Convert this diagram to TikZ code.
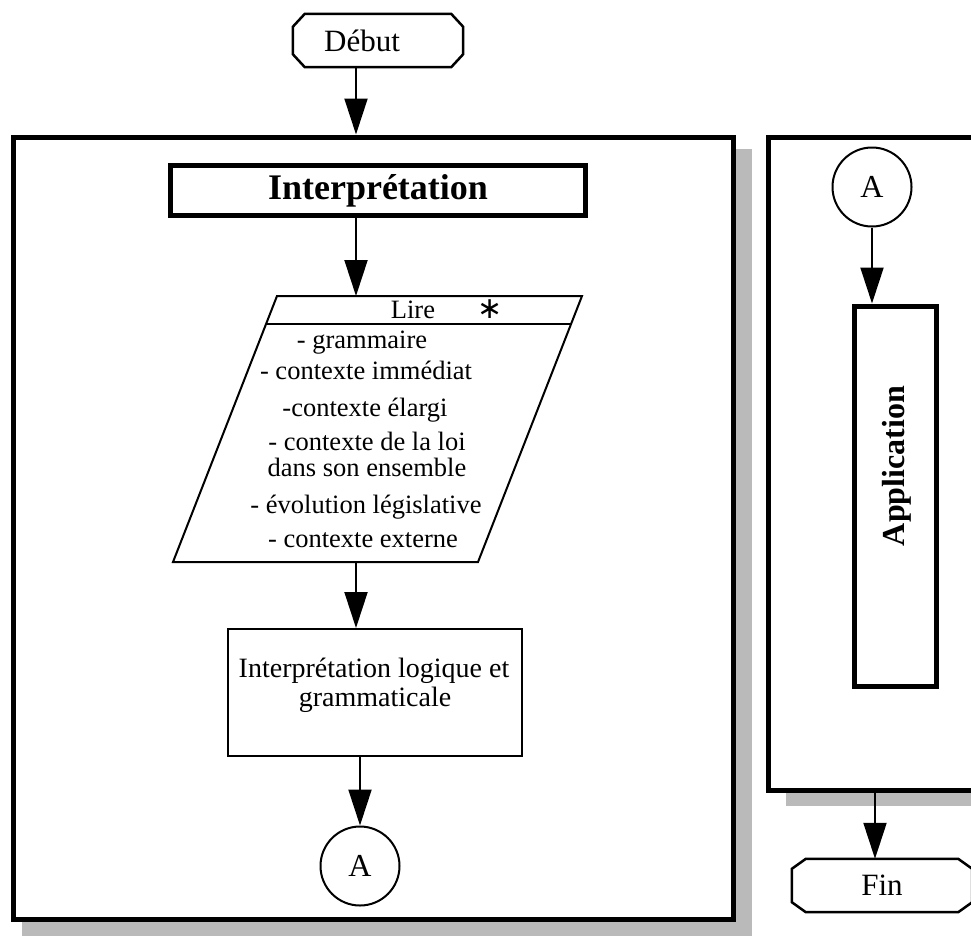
\documentclass[tikz,border=0pt]{standalone}
\usepackage{fontspec}
\setmainfont{Liberation Serif}
\newfontfamily\symfnt{DejaVu Sans}
\usetikzlibrary{arrows.meta,calc}
\tikzset{
  thickbox/.style={draw, line width=5pt, rectangle, inner sep=0pt},
  thinbox/.style={draw, line width=2pt, rectangle, inner sep=0pt},
  conn/.style={draw, circle, line width=2pt, minimum size=79pt, inner sep=0pt, font=\fontsize{32}{34}\selectfont},
  arr/.style={line width=2pt, -{Triangle[length=36pt,width=23pt]}},
  txt/.style={font=\fontsize{26.5}{28}\selectfont, inner sep=0pt, anchor=base},
  term/.style={rectangle, inner sep=0pt, font=\fontsize{31}{33}\selectfont},
  termline/.style={line width=2.5pt, line join=miter},
  shadowfill/.style={fill=black!27},
}
\begin{document}
\begin{tikzpicture}[x=1pt,y=-1pt]
\useasboundingbox (0,0) rectangle (971,935);
\clip (0,0) rectangle (971,935);
% shadows
\fill[shadowfill] (22,149) rectangle (752,945);
\fill[shadowfill] (786,150) rectangle (1010,806);
% frames
\node[thickbox, fill=white, minimum width=720pt, minimum height=782pt] (frameL) at (373,528) {};
\node[thickbox, fill=white, minimum width=240pt, minimum height=653pt] (frameR) at (888,463.5) {};
% helper x positions
\coordinate (ax) at (356,0);
\coordinate (fx) at (875,0);
% Debut
\node[term, minimum width=170pt, minimum height=53pt] (deb) at (378,40.5) {};
\node[term] (debt) at (362,40.5) {Début};
\draw[termline] ([xshift=12pt]deb.north west) -- ([xshift=-12pt]deb.north east)
  -- ([yshift=-13pt]deb.north east) -- ([yshift=13pt]deb.south east)
  -- ([xshift=-12pt]deb.south east) -- ([xshift=12pt]deb.south west)
  -- ([yshift=13pt]deb.south west) -- ([yshift=-13pt]deb.north west) -- cycle;
\draw[arr] (deb.south -| ax) -- (frameL.north -| ax);
% Interpretation
\node[thickbox, minimum width=415pt, minimum height=50pt, font=\fontsize{36}{38}\selectfont\bfseries] (interp) at (378,190.5) {Interprétation};
% parallelogram
\coordinate (pTL) at (277,296);
\coordinate (pTR) at (582,296);
\coordinate (pBR) at (478,562);
\coordinate (pBL) at (173,562);
\draw[line width=2pt, line join=miter] (pTL) -- (pTR) -- (pBR) -- (pBL) -- cycle;
\draw[line width=2pt] ($(pTL)!0.105!(pBL)$) -- ($(pTR)!0.105!(pBR)$);
\coordinate (ptop) at (356,296);
\coordinate (pbot) at (356,562);
\draw[arr] (interp.south -| ax) -- (ptop);
\node[txt] (lire) at (413,318) {Lire};
\node[inner sep=0pt, font=\symfnt\fontsize{30}{30}\selectfont] (star) at (490,309) {∗};
\node[txt] (l1) at (362,348) {- grammaire};
\node[txt] (l2) at (366,379) {- contexte immédiat};
\node[txt] (l3) at (365,416) {-contexte élargi};
\node[txt] (l4) at (367,450) {- contexte de la loi};
\node[txt] (l5) at (367,476) {dans son ensemble};
\node[txt] (l6) at (366,513) {- évolution législative};
\node[txt] (l7) at (363,547) {- contexte externe};
% logic box
\node[thinbox, minimum width=294pt, minimum height=127pt] (logic) at (375,692.5) {};
\node[txt, font=\fontsize{28}{30}\selectfont] (lg1) at (374,677) {Interprétation logique et};
\node[txt, font=\fontsize{28}{30}\selectfont] (lg2) at (375,706) {grammaticale};
\draw[arr] (pbot) -- (logic.north -| pbot);
% connector A (left)
\node[conn] (A1) at (360,866) {A};
\draw[arr] (logic.south -| A1) -- (A1.north);
% right panel
\node[conn] (A2) at (872,187) {A};
\node[thickbox, minimum width=82pt, minimum height=380pt] (app) at (895,496) {};
\node[rotate=90, inner sep=0pt, font=\fontsize{32}{34}\selectfont\bfseries] (apptext) at (897,466) {Application};
\draw[arr] (A2.south) -- (app.north -| A2);
% Fin
\node[term, minimum width=180pt, minimum height=53pt] (fin) at (882,885.5) {Fin};
\draw[termline] ([xshift=14pt]fin.north west) -- ([xshift=-14pt]fin.north east)
  -- ([yshift=-10pt]fin.north east) -- ([yshift=10pt]fin.south east)
  -- ([xshift=-14pt]fin.south east) -- ([xshift=14pt]fin.south west)
  -- ([yshift=10pt]fin.south west) -- ([yshift=-10pt]fin.north west) -- cycle;
\draw[arr] (frameR.south -| fx) -- (fin.north -| fx);
\end{tikzpicture}
\end{document}
